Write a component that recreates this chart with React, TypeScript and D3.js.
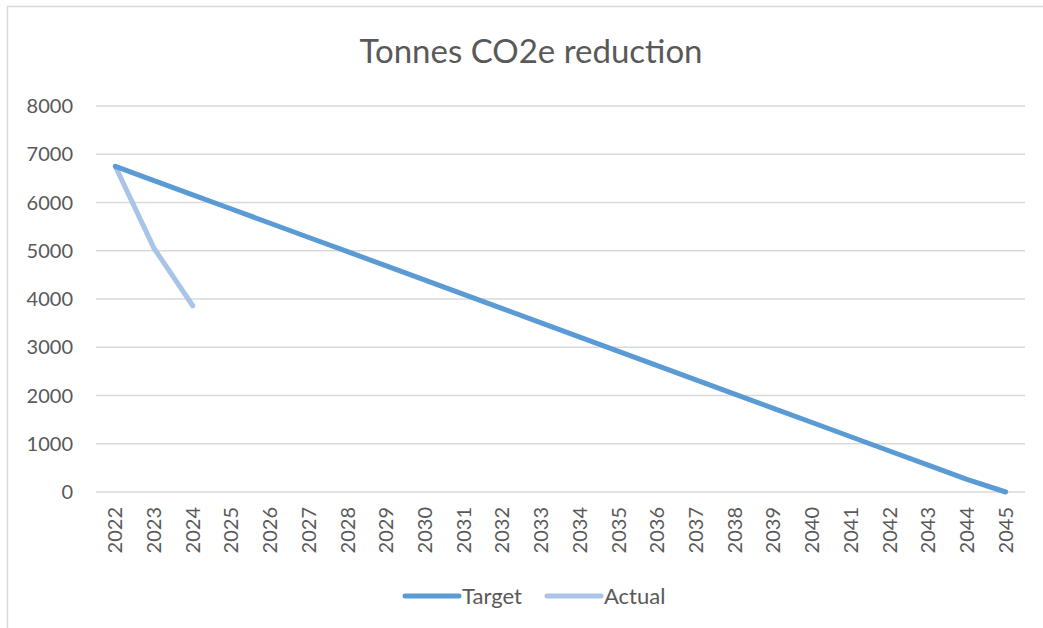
import React, { useRef, useEffect } from 'react';
import * as d3 from 'd3';

// Years on the category axis
const years = [
  '2022', '2023', '2024', '2025', '2026', '2027', '2028', '2029', '2030', '2031', '2032', '2033',
  '2034', '2035', '2036', '2037', '2038', '2039', '2040', '2041', '2042', '2043', '2044', '2045',
];
// Target reduction path
const targetValues = [
  6750, 6455, 6160, 5865, 5570, 5275, 4980, 4685, 4390, 4095, 3800, 3505,
  3210, 2915, 2620, 2325, 2030, 1735, 1440, 1145, 850, 555, 260, 0,
];
// Actual values reported so far
const actualValues = [6750, 5050, 3860];
const yTicks = [0, 1000, 2000, 3000, 4000, 5000, 6000, 7000, 8000];

const seriesNames = ['Target', 'Actual'];
const seriesColors = ['#5b9bd5', '#a9c4e6'];

const App = () => {
  const ref = useRef<SVGSVGElement>(null);

  useEffect(() => {
    const svg = d3.select(ref.current);
    svg.selectAll('*').remove();

    const width = 1043;
    const height = 628;
    const font = 'Lato, "Open Sans", sans-serif';
    const textColor = '#595959';

    svg.attr('width', width).attr('height', height);

    // Chart area border (runs off the right and bottom of the picture)
    svg.append('rect')
      .attr('x', 7.5).attr('y', 6.5)
      .attr('width', width + 10).attr('height', height + 10)
      .attr('fill', '#fff')
      .attr('stroke', '#d9d9d9')
      .attr('stroke-width', 1.5);

    const plot = { left: 96, right: 1025, top: 106, bottom: 492 };

    const x = d3.scaleBand<string>()
      .domain(years)
      .range([plot.left, plot.right]);
    const y = d3.scaleLinear()
      .domain([0, 8000])
      .range([plot.bottom, plot.top]);
    const cx = (d: string) => (x(d) ?? 0) + x.bandwidth() / 2;

    // Title
    svg.append('text')
      .attr('x', 531).attr('y', 63)
      .attr('text-anchor', 'middle')
      .attr('font-family', font)
      .attr('font-size', 33)
      .attr('fill', textColor)
      .text('Tonnes CO2e reduction');

    // Gridlines
    svg.append('g')
      .selectAll('line')
      .data(yTicks)
      .join('line')
      .attr('x1', plot.left).attr('x2', plot.right)
      .attr('y1', d => y(d)).attr('y2', d => y(d))
      .attr('stroke', '#d9d9d9')
      .attr('stroke-width', 1.5);

    // Y axis labels
    svg.append('g')
      .selectAll('text')
      .data(yTicks)
      .join('text')
      .attr('x', 73)
      .attr('y', d => y(d))
      .attr('dy', '0.35em')
      .attr('text-anchor', 'end')
      .attr('font-family', font)
      .attr('font-size', 20)
      .attr('fill', textColor)
      .text(d => String(d));

    // X axis labels, rotated
    svg.append('g')
      .selectAll('text')
      .data(years)
      .join('text')
      .attr('transform', d => `translate(${cx(d)},${507}) rotate(-90)`)
      .attr('dy', '0.35em')
      .attr('text-anchor', 'end')
      .attr('font-family', font)
      .attr('font-size', 20)
      .attr('fill', textColor)
      .text(d => d);

    const line = d3.line<number>()
      .x((_, i) => cx(years[i]))
      .y(d => y(d));

    // Target drawn over Actual
    svg.append('path')
      .datum(actualValues)
      .attr('d', line)
      .attr('fill', 'none')
      .attr('stroke', seriesColors[1])
      .attr('stroke-width', 5)
      .attr('stroke-linecap', 'round')
      .attr('stroke-linejoin', 'round');

    svg.append('path')
      .datum(targetValues)
      .attr('d', line)
      .attr('fill', 'none')
      .attr('stroke', seriesColors[0])
      .attr('stroke-width', 5)
      .attr('stroke-linecap', 'round')
      .attr('stroke-linejoin', 'round');

    // Legend
    const legendX = [405, 547];
    const legend = svg.append('g')
      .selectAll('g')
      .data(seriesNames)
      .join('g')
      .attr('transform', (_, i) => `translate(${legendX[i]},596)`);
    legend.append('line')
      .attr('x1', 0).attr('x2', 54)
      .attr('stroke', (_, i) => seriesColors[i])
      .attr('stroke-width', 5)
      .attr('stroke-linecap', 'round');
    legend.append('text')
      .attr('x', 57)
      .attr('dy', '0.35em')
      .attr('font-family', font)
      .attr('font-size', 22)
      .attr('fill', textColor)
      .text(d => d);
  }, []);

  return <svg ref={ref} style={{ position: 'absolute', left: 0, top: 0 }}></svg>;
};

export default App;
